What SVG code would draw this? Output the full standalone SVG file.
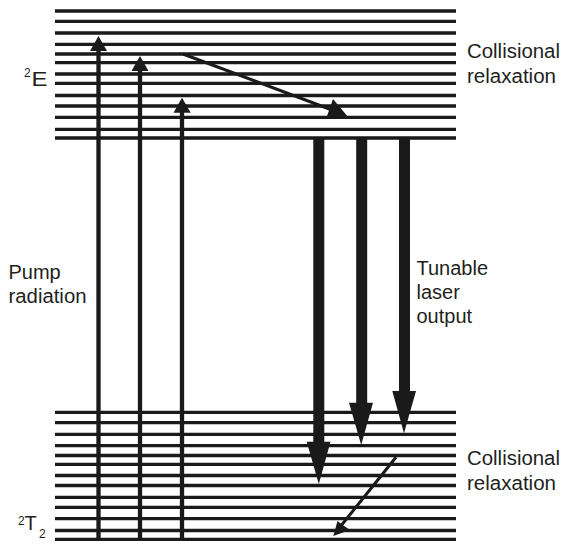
<svg xmlns="http://www.w3.org/2000/svg" width="570" height="551" viewBox="0 0 570 551">
<style>
.lvl{stroke:#1a1a1a;stroke-width:3.3;fill:none}
.pump{stroke:#1a1a1a;stroke-width:4.3;fill:none}
.laser{stroke:#1a1a1a;stroke-width:11;fill:none}
.coll{stroke:#1a1a1a;stroke-width:3;fill:none}
.head{fill:#1a1a1a}
.lbl{font-family:"Liberation Sans",Arial,sans-serif;font-size:20px;fill:#231f20}
.sup{font-family:"Liberation Sans",Arial,sans-serif;font-size:12px;fill:#231f20}
</style>
<rect width="570" height="551" fill="#ffffff"/>
<g id="level-2E">
<path class="lvl" d="M55 11H456M55 21.3H456M55 33H456M55 44.3H456M55 54H456M55 62.7H456M55 74H456M55 83.3H456M55 95.5H456M55 106H456M55 117.3H456M55 129.3H456M55 138H456"/>
</g>
<g id="level-2T2">
<path class="lvl" d="M55 412.3H456M55 422.7H456M55 434.3H456M55 445.7H456M55 455.5H456M55 464.3H456M55 475.5H456M55 485.5H456M55 497.3H456M55 507.3H456M55 518.7H456M55 530.5H456M55 539.3H456"/>
</g>
<g id="connectors">
<g id="pump-arrows">
<path class="pump" d="M98.5 540V49M140 540V69M182 540V111"/>
<polygon class="head" points="98.5,36 90,51 107,51"/>
<polygon class="head" points="140,56 131.5,71 148.5,71"/>
<polygon class="head" points="182,97.7 173.5,112.7 190.7,112.7"/>
</g>
<g id="upper-relaxation">
<path class="coll" d="M183 54L332 110"/>
<polygon class="head" points="333,99 326.5,117.5 348.5,117.5"/>
</g>
<g id="laser-arrows">
<path class="laser" d="M318.8 138V443M361.7 138V404M404.5 138V392"/>
<polygon class="head" points="306.7,441.7 330.5,441.7 318.8,484"/>
<polygon class="head" points="349,402.7 373,402.7 361.2,445"/>
<polygon class="head" points="392.3,391 416,391 404,433.3"/>
</g>
<g id="lower-relaxation">
<path class="coll" d="M396 457.3L340 527"/>
<polygon class="head" points="333.3,536 337.5,521 342,524.5 350,530"/>
</g>
</g>
<g id="labels">
<text class="lbl" x="467" y="58.3" textLength="93" lengthAdjust="spacingAndGlyphs">Collisional</text>
<text class="lbl" x="467" y="83.3" textLength="89" lengthAdjust="spacingAndGlyphs">relaxation</text>
<text class="sup" x="24" y="76.5">2</text>
<text class="lbl" x="31.5" y="86" textLength="16" lengthAdjust="spacingAndGlyphs">E</text>
<text class="lbl" x="8.5" y="279.3">Pump</text>
<text class="lbl" x="8.5" y="303.3" textLength="78" lengthAdjust="spacingAndGlyphs">radiation</text>
<text class="lbl" x="416.5" y="275">Tunable</text>
<text class="lbl" x="416.5" y="299.3">laser</text>
<text class="lbl" x="416.5" y="323.3">output</text>
<text class="lbl" x="467" y="465" textLength="93" lengthAdjust="spacingAndGlyphs">Collisional</text>
<text class="lbl" x="467" y="490" textLength="89" lengthAdjust="spacingAndGlyphs">relaxation</text>
<text class="sup" x="18" y="525">2</text>
<text class="lbl" x="24.5" y="530">T</text>
<text class="sup" x="39" y="537.7">2</text>
</g>
</svg>
